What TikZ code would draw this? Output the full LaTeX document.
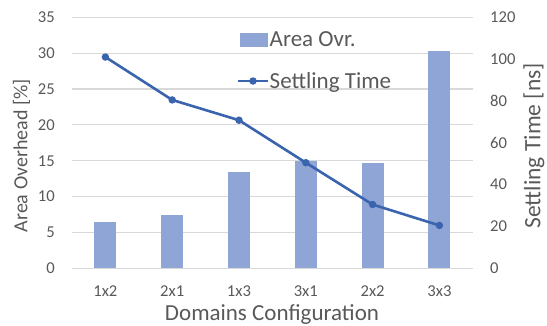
\documentclass[tikz,border=0pt]{standalone}
\usepackage{fontspec}
\setmainfont{Carlito}
\definecolor{barfill}{RGB}{143,165,213}
\definecolor{linecol}{RGB}{59,100,174}
\definecolor{gridcol}{RGB}{217,217,217}
\definecolor{textcol}{RGB}{89,89,89}
\tikzset{
  gridline/.style={draw=gridcol, line width=1.2bp},
  bar/.style={fill=barfill, draw=none},
  seriesline/.style={draw=linecol, line width=2.6bp, line join=round},
  dot/.style={circle, fill=linecol, inner sep=0pt, minimum size=7.5bp},
  ticklabel/.style={text=textcol, font=\fontsize{16.6bp}{18bp}\selectfont, inner sep=0pt},
  axistitle/.style={text=textcol, font=\fontsize{20bp}{22bp}\selectfont, inner sep=0pt},
  legendtext/.style={text=textcol, font=\fontsize{23bp}{25bp}\selectfont, inner sep=0pt, anchor=base west},
}
\begin{document}
\begin{tikzpicture}[x=1bp, y=-1bp]
\useasboundingbox (0,0) rectangle (547,325);
% primary axis: 0..35, secondary axis: 0..120
\def\ybase{268.3}
\def\pstep{7.171}   % px per % on the left axis
\def\sstep{2.0917}  % px per ns on the right axis
% horizontal gridlines and left tick labels
\foreach \v in {0,5,...,35} {
  \draw[gridline] (72,{\ybase-\v*\pstep}) -- (473,{\ybase-\v*\pstep});
  \node[ticklabel, anchor=east] (l\v) at (55,{\ybase-\v*\pstep}) {\v};
}
% right tick labels
\foreach \s in {0,20,...,120} {
  \node[ticklabel, anchor=west] (r\s) at (490,{\ybase-\s*\sstep}) {\s};
}
% bars (area overhead) and category labels
\foreach \i/\xc/\val/\lab in {1/105.4/6.5/1x2, 2/172.2/7.5/2x1, 3/239.0/13.4/1x3, 4/305.8/14.9/3x1, 5/372.6/14.7/2x2, 6/439.4/30.3/3x3} {
  \fill[bar] ({\xc-11},\ybase) rectangle ({\xc+11},{\ybase-\val*\pstep});
  \node[ticklabel, anchor=base] (c\i) at (\xc,296.7) {\lab};
}
% settling time series
\coordinate (p1) at (105.4,{\ybase-101*\sstep});
\coordinate (p2) at (172.2,{\ybase-80.5*\sstep});
\coordinate (p3) at (239.0,{\ybase-70.8*\sstep});
\coordinate (p4) at (305.8,{\ybase-50.5*\sstep});
\coordinate (p5) at (372.6,{\ybase-30.5*\sstep});
\coordinate (p6) at (439.4,{\ybase-20.5*\sstep});
\draw[seriesline] (p1) -- (p2) -- (p3) -- (p4) -- (p5) -- (p6);
\foreach \p in {p1,p2,p3,p4,p5,p6} \node[dot] at (\p) {};
% axis titles
\node[axistitle, rotate=90] (ytl) at (21.5,155.8) {Area Overhead [\%]};
\node[axistitle, rotate=90, font=\fontsize{23.5bp}{25bp}\selectfont] (ytr) at (534,145.8) {Settling Time [ns]};
\node[axistitle, anchor=base, font=\fontsize{23bp}{25bp}\selectfont] (xt) at (272,320) {Domains Configuration};
% legend
\fill[bar] (240,32.7) rectangle (267.7,46.7);
\node[legendtext] (lg1) at (269.5,46.5) {Area Ovr.};
\coordinate (la) at (238,81);
\coordinate (lb) at (268,81);
\draw[draw=linecol, line width=2.6bp] (la) -- (lb);
\node[dot] (lm) at (253,81) {};
\node[legendtext] (lg2) at (269.5,88.5) {Settling Time};
\end{tikzpicture}
\end{document}
